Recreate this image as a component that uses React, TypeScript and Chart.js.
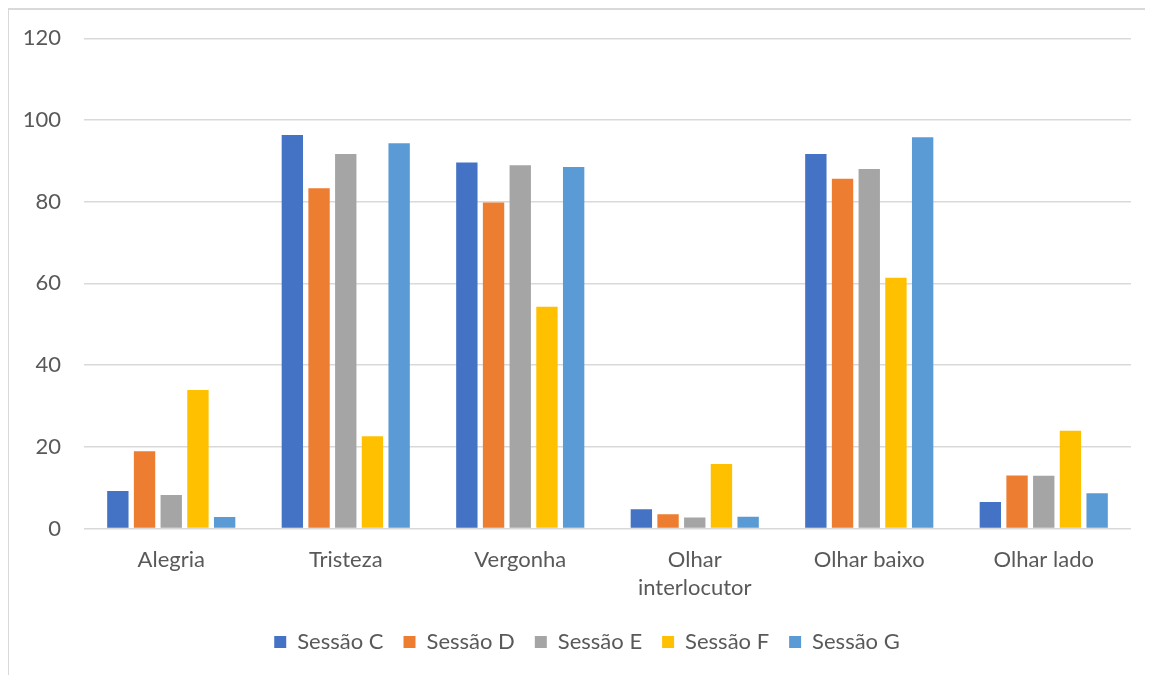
import React, { useEffect, useRef } from "react";
import { Chart, registerables } from "chart.js";

Chart.register(...registerables);

const categories: (string | string[])[] = [
  "Alegria",
  "Tristeza",
  "Vergonha",
  ["Olhar", "interlocutor"],
  "Olhar baixo",
  "Olhar lado",
];

const sessaoC = [9.2, 96.3, 89.6, 4.7, 91.7, 6.5];
const sessaoD = [18.9, 83.3, 79.8, 3.5, 85.6, 13.0];
const sessaoE = [8.2, 91.7, 88.9, 2.7, 88.0, 12.9];
const sessaoF = [33.9, 22.6, 54.3, 15.8, 61.4, 23.9];
const sessaoG = [2.8, 94.3, 88.5, 2.9, 95.8, 8.6];

const seriesNames = ["Sessão C", "Sessão D", "Sessão E", "Sessão F", "Sessão G"];
const seriesColors = ["#4472C4", "#ED7D31", "#A5A5A5", "#FFC000", "#5B9BD5"];

const yMin = 0;
const yMax = 120;
const yStep = 20;

const FONT = "Lato, 'Open Sans', sans-serif";
const TEXT_COLOR = "#595959";

const legendShift = {
  id: "legendShift",
  afterLayout(chart: any) {
    const l = chart.legend;
    if (l) {
      l.left += 17;
      l.right += 17;
    }
  },
};

export default function App() {
  const canvasRef = useRef<HTMLCanvasElement | null>(null);

  useEffect(() => {
    if (!canvasRef.current) return;
    const allSeries = [sessaoC, sessaoD, sessaoE, sessaoF, sessaoG];
    const chart = new Chart(canvasRef.current, {
      type: "bar",
      data: {
        labels: categories,
        datasets: allSeries.map((values, i) => ({
          label: seriesNames[i],
          data: values,
          backgroundColor: seriesColors[i],
          borderWidth: 0,
          barPercentage: 0.8,
          categoryPercentage: 0.765,
        })),
      },
      plugins: [legendShift],
      options: {
        animation: false,
        responsive: false,
        maintainAspectRatio: false,
        layout: {
          padding: { top: 28.3, right: 22, bottom: 12, left: 0 },
        },
        plugins: {
          tooltip: { enabled: false },
          legend: {
            display: true,
            position: "bottom",
            labels: {
              boxWidth: 12,
              boxHeight: 12,
              padding: 20,
              color: TEXT_COLOR,
              font: { family: FONT, size: 22 },
            },
          },
        },
        scales: {
          x: {
            grid: { display: false },
            border: { display: false },
            ticks: {
              color: TEXT_COLOR,
              font: { family: FONT, size: 22, lineHeight: 1.3 },
              padding: 9,
              maxRotation: 0,
              autoSkip: false,
            },
            afterFit: (scale: any) => {
              scale.height = 82.5;
            },
          },
          y: {
            min: yMin,
            max: yMax,
            grid: {
              color: "#d9d9d9",
              lineWidth: 1.5,
              drawTicks: true,
              tickLength: 23,
              tickColor: "rgba(0,0,0,0)",
            },
            border: { display: false },
            ticks: {
              stepSize: yStep,
              color: TEXT_COLOR,
              font: { family: FONT, size: 22 },
              padding: 0,
            },
            afterFit: (scale: any) => {
              scale.width = 75;
            },
          },
        },
      },
    });
    return () => chart.destroy();
  }, []);

  return (
    <div
      style={{
        marginLeft: -1,
        width: 1146,
        height: 667,
        borderLeft: "2px solid #d9d9d9",
        borderTop: "2px solid #d9d9d9",
        boxSizing: "border-box",
        background: "#fff",
        overflow: "hidden",
      }}
    >
      <canvas ref={canvasRef} width={1144} height={665} style={{ display: "block" }} />
    </div>
  );
}
